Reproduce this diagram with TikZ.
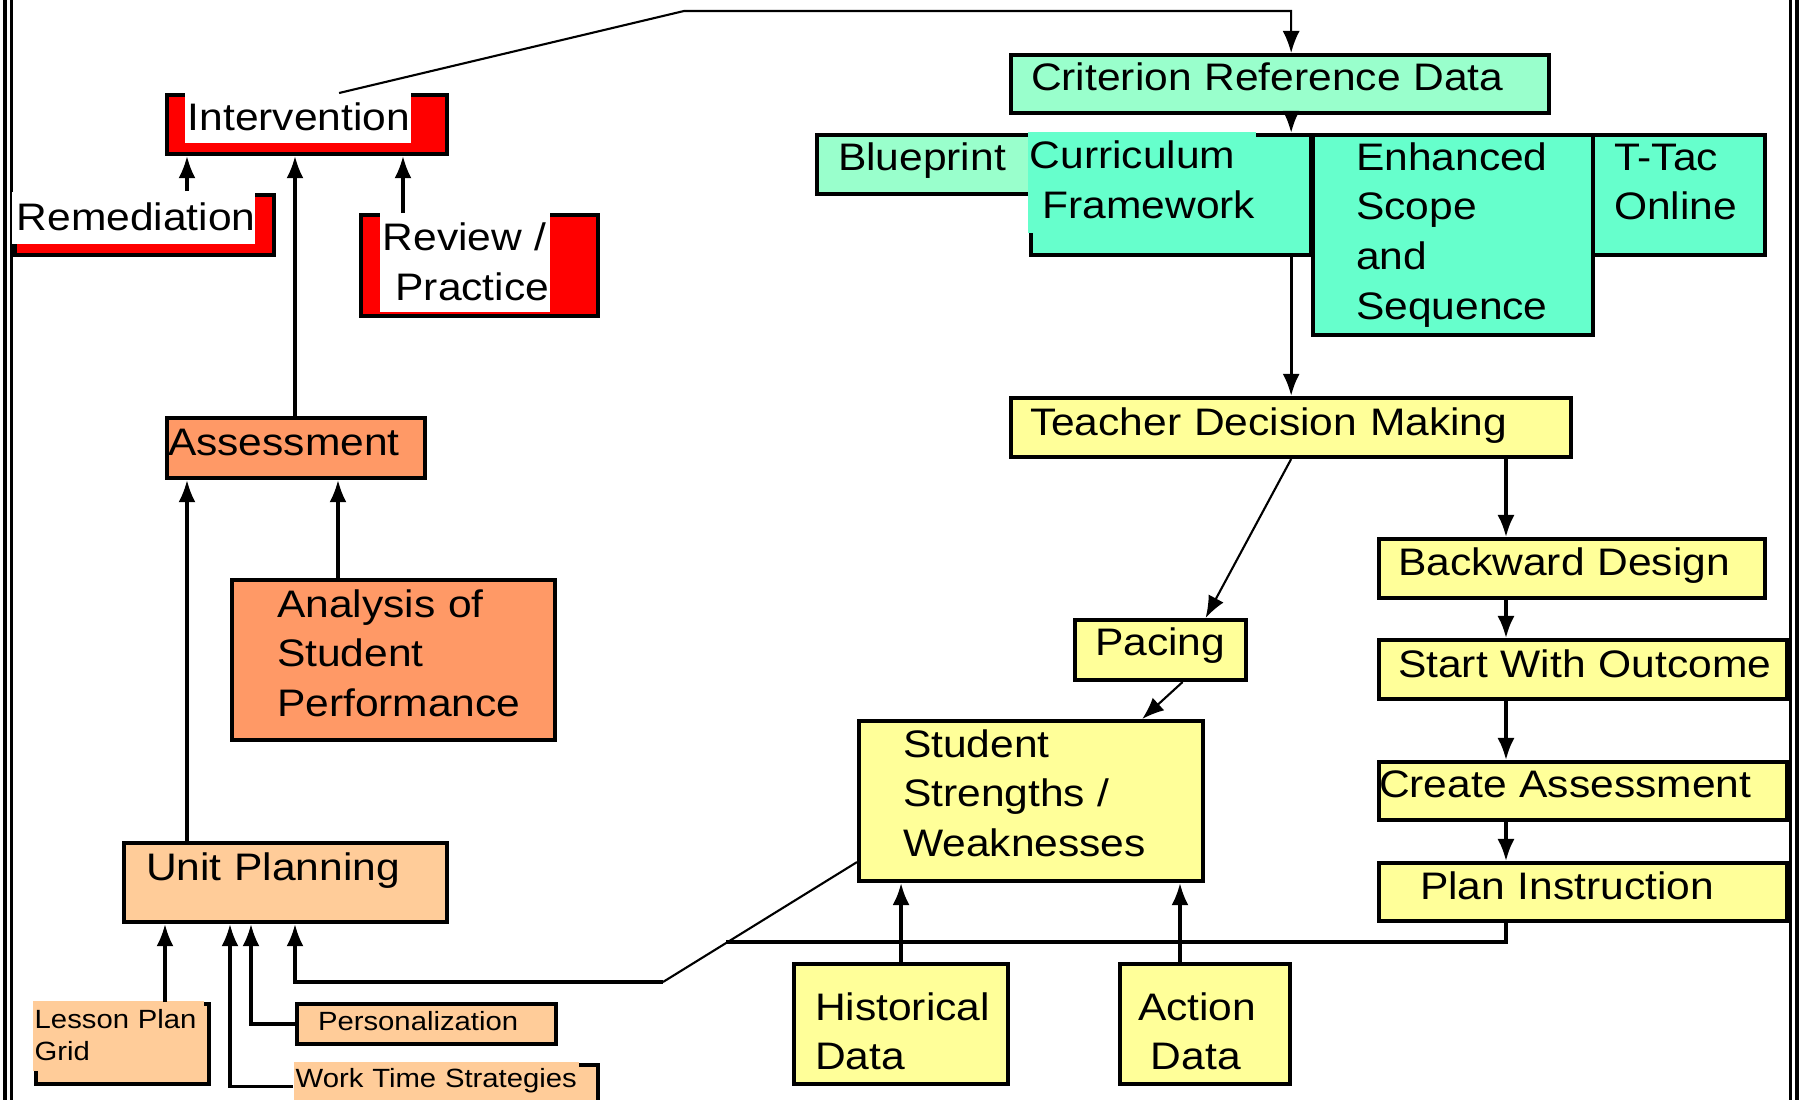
\documentclass[tikz,border=0pt]{standalone}
\usepackage{fontspec}
\setmainfont{Liberation Sans}[FakeStretch=1.11]
\usetikzlibrary{arrows.meta}

\definecolor{mint}{HTML}{99FFCC}
\definecolor{aqua}{HTML}{66FFCC}
\definecolor{salmon}{HTML}{FF9966}
\definecolor{peach}{HTML}{FFCC99}
\definecolor{lemon}{HTML}{FFFF99}

% no hyphenation inside the boxes
\hyphenpenalty=10000
\exhyphenpenalty=10000

\begin{document}
\begin{tikzpicture}[x=0.01cm, y=-0.01cm, font=\fontsize{10.9}{14.2}\selectfont]

% Set the overall size of the page
\useasboundingbox (0,0) rectangle (1802,1100);

% Define styles for boxes, patches and arrows
\tikzstyle{box} = [draw=black, line width=0.04cm, anchor=north west, inner ysep=0pt, align=left]
\tikzstyle{shell} = [draw=black, line width=0.04cm, anchor=north west, inner sep=0pt]
\tikzstyle{patch} = [anchor=north west, inner ysep=0pt, align=left]
\tikzstyle{small} = [font=\fontsize{7.5}{9.1}\selectfont]
\tikzstyle{link} = [line width=0.9pt, -{Latex[length=2.2mm,width=1.7mm]}]
\tikzstyle{thin} = [line width=0.6pt]
\tikzset{geo/.style n args={4}{text width=#1cm, inner xsep=#2cm, text height=#3cm, text depth=#4cm}}

% Page frame
\draw[line width=0.046cm] (5,0) -- (5,1100);
\draw[line width=0.027cm] (11.3,0) -- (11.3,1100);
\draw[line width=0.03cm] (1790.5,0) -- (1790.5,1100);
\draw[line width=0.04cm] (1797,0) -- (1797,1100);

% Columns and bends used by the connectors
\coordinate (kink) at (684,11);
\coordinate (colA) at (165,0);
\coordinate (colB) at (230,0);
\coordinate (colC) at (251,0);
\coordinate (colD) at (295,0);
\coordinate (colE) at (187,0);
\coordinate (colF) at (338,0);
\coordinate (colG) at (403,0);
\coordinate (colR) at (1506,0);
\coordinate (colS) at (1180,0);
\coordinate (elbow) at (663,982);
\coordinate (joint) at (726,942);

%Green boxes
\node[box, fill=mint, geo={4.98}{.20}{.35}{.23}] (crd) at (1009,53) {Criterion Reference Data};
\node[box, fill=mint, geo={1.71}{.21}{.35}{.24}] (blue) at (815,133) {Blueprint};
\node[shell, fill=aqua, minimum width=2.80cm, minimum height=1.20cm] (curbox) at (1029,133) {};
\node[patch, fill=aqua, geo={2.24}{.02}{.37}{.64}] (curtxt) at (1027,131) {Curriculum\\~Framework};
\node[box, fill=aqua, geo={1.94}{.43}{.35}{1.65}] (ess) at (1311,133) {Enhanced\\Scope\\and\\Sequence};
\node[box, fill=aqua, geo={1.30}{.21}{.35}{.85}] (ttac) at (1591,133) {T-Tac\\Online};

%Yellow boxes
\node[box, fill=lemon, geo={5.22}{.19}{.37}{.22}] (tdm) at (1009,396) {Teacher Decision Making};
\node[box, fill=lemon, geo={3.48}{.19}{.36}{.23}] (bwd) at (1377,537) {Backward Design};
\node[box, fill=lemon, geo={3.70}{.19}{.37}{.22}] (swo) at (1377,638) {Start~With~Outcome};
\node[box, fill=lemon, geo={4.08}{0}{.35}{.23}] (cas) at (1377,760) {Create~Assessment};
\node[box, fill=lemon, geo={3.26}{.41}{.36}{.22}] (pin) at (1377,861) {Plan Instruction};
\node[box, fill=lemon, geo={1.31}{.20}{.35}{.25}] (pac) at (1073,618) {Pacing};
\node[box, fill=lemon, geo={2.56}{.44}{.36}{1.24}] (ssw) at (857,719) {Student\\Strengths~/\\Weaknesses};
\node[box, fill=lemon, geo={1.72}{.21}{.56}{.64}] (hist) at (792,962) {Historical\\Data};
\node[box, fill=lemon, geo={1.34}{.18}{.56}{.64}] (act) at (1118,962) {Action\\~Data};

%Red boxes
\node[shell, fill=red, minimum width=2.80cm, minimum height=0.59cm] (intbox) at (165,93) {};
\node[patch, fill=white, geo={2.20}{.03}{.39}{.12}] (inttxt) at (184,91) {Intervention};
\node[shell, fill=red, minimum width=2.59cm, minimum height=0.60cm] (rembox) at (13,193) {};
\node[patch, fill=white, geo={2.33}{.05}{.39}{.13}] (remtxt) at (11,191) {Remediation};
\node[shell, fill=red, minimum width=2.37cm, minimum height=1.01cm] (revbox) at (359,213) {};
\node[patch, fill=white, geo={1.64}{.03}{.39}{.61}] (revtxt) at (379,211) {Review~/\\~Practice};

%Orange boxes
\node[box, fill=salmon, geo={2.56}{.01}{.37}{.23}] (assess) at (165,416) {Assessment};
\node[box, fill=salmon, geo={2.33}{.45}{.37}{1.23}] (anal) at (230,578) {Analysis~of\\Student\\Performance};
\node[box, fill=peach, geo={2.79}{.22}{.37}{.42}] (unit) at (122,841) {Unit Planning};
\node[shell, fill=peach, minimum width=1.73cm, minimum height=0.80cm] (lpgbox) at (34,1002) {};
\node[patch, small, fill=peach, geo={1.67}{.02}{.28}{.42}] (lpgtxt) at (32,1000) {Lesson~Plan\\Grid};
\node[box, small, fill=peach, geo={2.17}{.21}{.26}{.14}] (pers) at (295,1002) {Personalization};
\node[shell, fill=peach, minimum width=3.01cm, minimum height=0.60cm] (wtsbox) at (295,1063) {};
\node[patch, small, fill=peach, geo={2.81}{.02}{.26}{.24}] (wtstxt) at (293,1061) {Work~Time~Strategies};

% Arrows on the right side
\draw[link, thin] ([xshift=.32cm]intbox.north) -- (kink) -| (tdm.north |- crd.north);
\draw[link] (tdm.north |- crd.south) -- (tdm.north |- curbox.north);
\draw[link] (tdm.north |- curbox.south) -- (tdm.north);
\draw[link, thin] (tdm.south) -- ([xshift=.45cm]pac.north);
\draw[link, thin] ([xshift=.22cm]pac.south) -- ([xshift=1.11cm]ssw.north);
\draw[link] (colR |- tdm.south) -- (colR |- bwd.north);
\draw[link] (colR |- bwd.south) -- (colR |- swo.north);
\draw[link] (colR |- swo.south) -- (colR |- cas.north);
\draw[link] (colR |- cas.south) -- (colR |- pin.north);
\draw[line width=0.9pt] (colR |- pin.south) |- (joint);
\draw[link] (hist.north) -- (hist.north |- ssw.south);
\draw[link] (colS |- act.north) -- (colS |- ssw.south);

% Arrows on the left side
\draw[thin] ([yshift=-.61cm]ssw.west) -- (elbow);
\draw[link] (elbow) -| (colD |- unit.south);
\draw[link] (colA |- lpgbox.north) -- (colA |- unit.south);
\draw[link] (pers.west) -| (colC |- unit.south);
\draw[link] (wtstxt.west) -| (colB |- unit.south);
\draw[link] (colE |- unit.north) -- (colE |- assess.south);
\draw[link] (colF |- anal.north) -- (colF |- assess.south);
\draw[link] (colD |- assess.north) -- (colD |- intbox.south);
\draw[link] (colE |- remtxt.north) -- (colE |- intbox.south);
\draw[link] (colG |- revbox.north) -- (colG |- intbox.south);

\end{tikzpicture}
\end{document}
